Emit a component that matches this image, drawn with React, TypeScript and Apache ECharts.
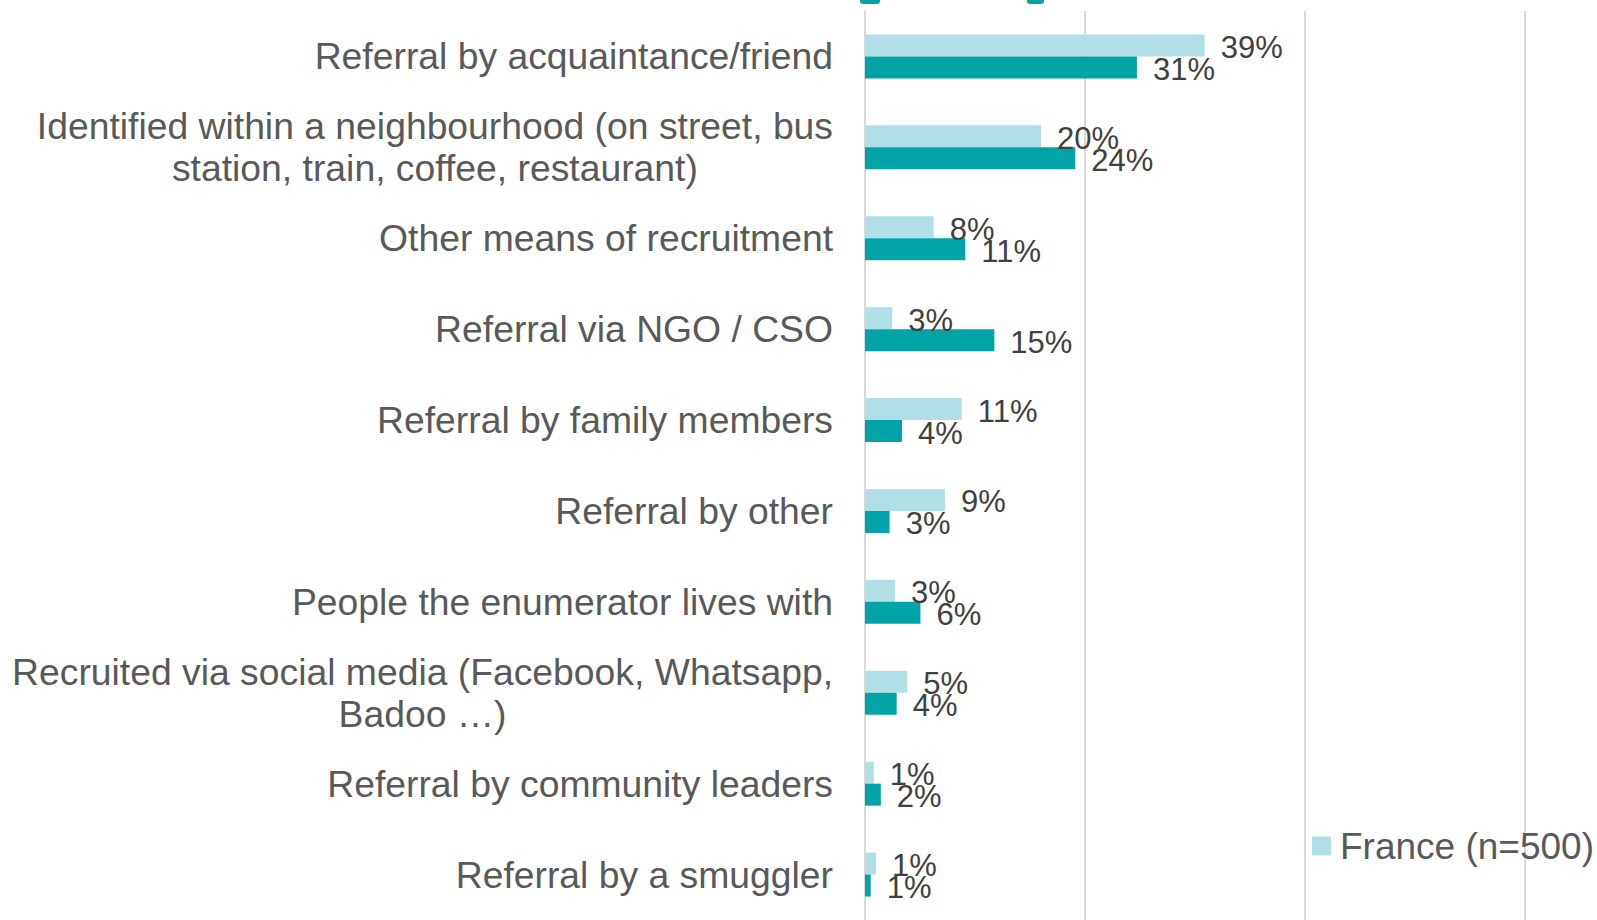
import React, { useEffect, useRef } from "react";
import * as echarts from "echarts";

const categories = [
  "Referral by acquaintance/friend",
  "Identified within a neighbourhood (on street, bus station, train, coffee, restaurant)",
  "Other means of recruitment",
  "Referral via NGO / CSO",
  "Referral by family members",
  "Referral by other",
  "People the enumerator lives with",
  "Recruited via social media (Facebook, Whatsapp, Badoo …)",
  "Referral by community leaders",
  "Referral by a smuggler",
];

const labelLines: Record<string, string[]> = {
  "Identified within a neighbourhood (on street, bus station, train, coffee, restaurant)": [
    "Identified within a neighbourhood (on street, bus",
    "station, train, coffee, restaurant)",
  ],
  "Recruited via social media (Facebook, Whatsapp, Badoo …)": [
    "Recruited via social media (Facebook, Whatsapp,",
    "Badoo …)",
  ],
};

const franceName = "France (n=500)";
const franceValues = [0.386, 0.2, 0.078, 0.031, 0.11, 0.091, 0.034, 0.048, 0.01, 0.0125];
const otherName = "Comparison group";
const otherValues = [0.309, 0.239, 0.114, 0.147, 0.042, 0.028, 0.063, 0.036, 0.018, 0.0065];

const xTicks = { min: 0, max: 0.75, interval: 0.25 };

const FONT = "'Liberation Sans', Arial, sans-serif";
const LIGHT = "#B0DFE5";
const DARK = "#00A3A6";
const GRID = "#D9D9D9";

export default function App() {
  const ref = useRef<HTMLDivElement>(null);
  useEffect(() => {
    if (!ref.current) return;
    const chart = echarts.init(ref.current, undefined, { renderer: "svg" });
    const pct = (p: any) => Math.round(p.value * 100) + "%";
    const valueLabel = {
      show: true,
      position: "right",
      distance: 16,
      offset: [0, 2],
      formatter: pct,
      fontSize: 31,
      color: "#404040",
      fontFamily: FONT,
    };
    chart.setOption({
      animation: false,
      textStyle: { fontFamily: FONT },
      grid: { left: 865, top: 11, width: 660, bottom: -3.6, containLabel: false },
      legend: {
        data: [franceName],
        left: 1312,
        top: 826,
        padding: 0,
        itemWidth: 19,
        itemHeight: 19,
        itemGap: 10,
        icon: "rect",
        textStyle: { fontFamily: FONT, fontSize: 37, color: "#595959", lineHeight: 40, padding: [0, 0, 0, 4] },
      },
      xAxis: {
        type: "value",
        min: xTicks.min,
        max: xTicks.max,
        interval: xTicks.interval,
        axisLabel: { show: false },
        axisLine: { show: false },
        axisTick: { show: false },
        splitLine: { show: true, lineStyle: { color: GRID, width: 2 } },
      },
      yAxis: {
        type: "category",
        inverse: true,
        data: categories,
        axisTick: { show: false },
        axisLine: { show: true, lineStyle: { color: GRID, width: 2 } },
        axisLabel: {
          margin: 32,
          align: "right",
          formatter: (v: string) => (labelLines[v] || [v]).map((l) => `{c|${l}}`).join("\n"),
          rich: {
            c: { align: "center", fontSize: 37.3, lineHeight: 42, color: "#595959", fontFamily: FONT },
          },
        },
      },
      series: [
        {
          name: franceName,
          type: "bar",
          data: franceValues,
          barWidth: 22,
          barGap: "0%",
          itemStyle: { color: LIGHT },
          label: valueLabel,
        },
        {
          name: otherName,
          type: "bar",
          data: otherValues,
          barWidth: 22,
          barGap: "0%",
          itemStyle: { color: DARK },
          label: valueLabel,
        },
      ],
      graphic: [
        { type: "rect", shape: { x: 860, y: -4, width: 20, height: 8, r: 3 }, style: { fill: DARK } },
        { type: "rect", shape: { x: 1027, y: -4, width: 17, height: 8, r: 3 }, style: { fill: DARK } },
      ],
    });
    return () => chart.dispose();
  }, []);
  return (
    <div
      ref={ref}
      style={{ position: "fixed", left: 0, top: 0, width: 1597, height: 920, background: "#fff" }}
    />
  );
}
